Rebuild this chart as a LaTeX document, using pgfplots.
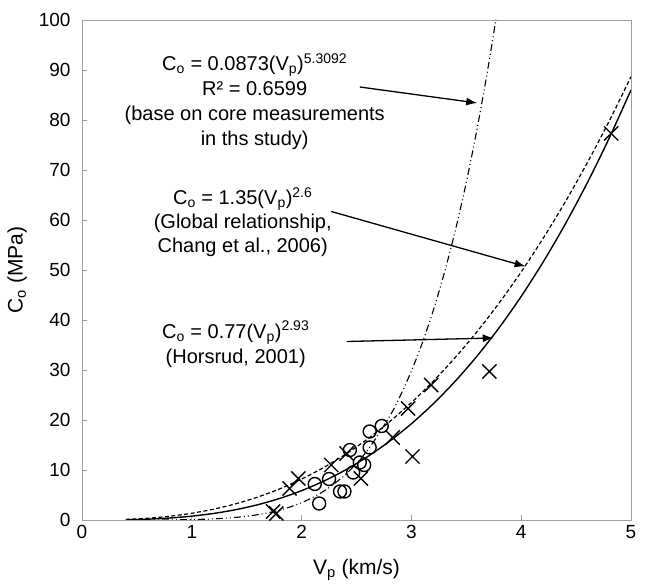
\documentclass[border=0pt]{standalone}
\usepackage{fontspec}
\setmainfont{Liberation Sans}
\usepackage{pgfplots}
\pgfplotsset{compat=1.18}
\usetikzlibrary{arrows.meta}
\begin{document}
\begin{tikzpicture}[x=1pt,y=1pt]
\useasboundingbox (-82,-66) rectangle (563,520);
\begin{axis}[
  at={(0,0)}, anchor=south west,
  width=549pt, height=500pt, scale only axis,
  xmin=0, xmax=5, ymin=0, ymax=100,
  xtick={0,1,2,3,4,5}, ytick={0,10,...,100},
  tick pos=left, tick align=inside,
  major tick length=5pt,
  axis line style={draw=gray!75, line width=0.9pt},
  every tick/.style={draw=gray!75, line width=0.9pt},
  /pgf/number format/assume math mode=true,
  tick label style={font=\fontsize{19}{19}\selectfont},
  xticklabel style={yshift=-2pt},
  yticklabel style={xshift=-8pt},
  xlabel={V\textsubscript{p} (km/s)},
  ylabel={C\textsubscript{o} (MPa)},
  every axis x label/.style={at={(axis description cs:0.5,-0.1)}, anchor=center, font=\fontsize{21}{21}\selectfont},
  every axis y label/.style={at={(axis description cs:-0.118,0.5)}, anchor=center, rotate=90, font=\fontsize{21}{21}\selectfont},
  clip=true,
]
% Horsrud (2001): solid
\addplot[black, line width=1.4pt, smooth] coordinates {
(0.4,0.053)(0.5,0.101)(0.6,0.172)(0.7,0.271)(0.8,0.400)(0.9,0.565)(1.0,0.770)
(1.2,1.314)(1.4,2.064)(1.6,3.052)(1.8,4.310)(2.0,5.868)(2.2,7.759)(2.4,10.012)
(2.6,12.657)(2.8,15.728)(3.0,19.250)(3.2,23.258)(3.4,27.781)(3.6,32.844)
(3.8,38.48)(4.0,44.72)(4.2,51.60)(4.4,59.13)(4.6,67.36)(4.8,76.31)(5.0,86.00)};
% Chang et al. (2006): dashed
\addplot[black, line width=1.2pt, smooth, dash pattern=on 4pt off 2.5pt] coordinates {
(0.4,0.125)(0.5,0.223)(0.6,0.358)(0.7,0.534)(0.8,0.756)(0.9,1.027)(1.0,1.350)
(1.2,2.169)(1.4,3.238)(1.6,4.582)(1.8,6.224)(2.0,8.185)(2.2,10.487)(2.4,13.149)
(2.6,16.191)(2.8,19.631)(3.0,23.488)(3.2,27.779)(3.4,32.522)(3.6,37.73)
(3.8,43.43)(4.0,49.62)(4.2,56.34)(4.4,63.58)(4.6,71.37)(4.8,79.72)(5.0,88.65)};
% This study: dash-dot-dot
\addplot[black, line width=1.1pt, smooth, dash pattern=on 7pt off 3pt on 1pt off 3pt on 1pt off 3pt] coordinates {
(0.4,0.001)(0.6,0.006)(0.8,0.027)(1.0,0.087)(1.2,0.230)(1.4,0.521)(1.6,1.059)
(1.8,1.978)(2.0,3.461)(2.2,5.741)(2.4,9.112)(2.6,13.938)(2.8,20.657)(2.9,24.89)
(3.0,29.80)(3.1,35.46)(3.2,41.97)(3.3,49.42)(3.4,57.91)(3.5,67.54)(3.6,78.44)
(3.7,90.72)(3.77,100.21)};
% crosses
\addplot[only marks, mark=x, mark size=10pt, mark options={line width=1.4pt, black}] coordinates {
(1.74,1.7)(1.77,1.3)(1.89,6.3)(1.97,8.3)(2.27,11.0)(2.41,13.3)(2.54,8.3)
(2.83,16.5)(2.97,22.3)(3.01,12.7)(3.18,27.0)(3.71,29.7)(4.82,77.3)};
% circles
\addplot[only marks, mark=o, mark size=6.5pt, mark options={line width=1.4pt, black}] coordinates {
(2.16,3.3)(2.12,7.2)(2.25,8.2)(2.35,5.7)(2.39,5.7)(2.44,14.0)(2.47,9.5)
(2.53,11.5)(2.57,11.0)(2.62,14.5)(2.62,17.7)(2.73,18.8)};
% annotations
\node[align=center, font=\fontsize{20}{25}\selectfont] at (axis cs:1.573,83.7)
 {C\textsubscript{o} = 0.0873(V\textsubscript{p})\textsuperscript{5.3092}\\R² = 0.6599\\(base on core measurements\\in ths study)};
\node[align=center, font=\fontsize{20}{24}\selectfont] at (axis cs:1.464,59.6)
 {C\textsubscript{o} = 1.35(V\textsubscript{p})\textsuperscript{2.6}\\(Global relationship,\\Chang et al., 2006)};
\node[align=center, font=\fontsize{20}{25}\selectfont] at (axis cs:1.40,35.2)
 {C\textsubscript{o} = 0.77(V\textsubscript{p})\textsuperscript{2.93}\\(Horsrud, 2001)};
\draw[-{Latex[length=11pt,width=8pt]}, line width=1.3pt] (axis cs:2.53,86.6) -- (axis cs:3.6,83.4);
\draw[-{Latex[length=11pt,width=8pt]}, line width=1.3pt] (axis cs:2.27,61.7) -- (axis cs:4.04,50.7);
\draw[-{Latex[length=11pt,width=8pt]}, line width=1.3pt] (axis cs:2.41,35.7) -- (axis cs:3.75,36.4);
\end{axis}
\end{tikzpicture}
\end{document}
